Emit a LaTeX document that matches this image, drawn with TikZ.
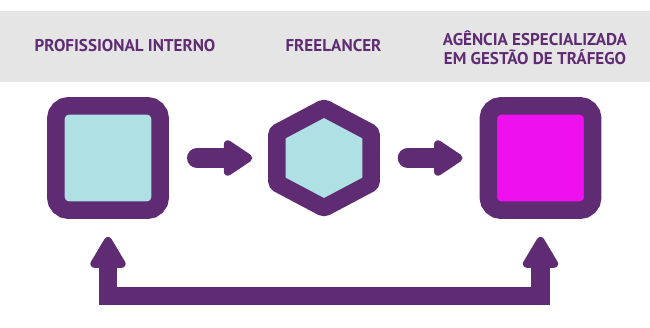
\documentclass[tikz,border=0pt]{standalone}
\usepackage{fontspec}
\setmainfont{PT Sans}
\usetikzlibrary{arrows.meta, positioning, shapes.geometric}
\definecolor{deeppurple}{RGB}{95,44,116}
\definecolor{paleblue}{RGB}{174,224,228}
\definecolor{hotpink}{RGB}{238,16,238}
\definecolor{bandgray}{RGB}{229,229,229}

\tikzset{
  tile/.style={draw=deeppurple, line width=0.35cm, rounded corners=0.26cm,
    minimum size=2.09cm, inner sep=0pt},
  hexa/.style={draw=deeppurple, fill=paleblue, line width=0.35cm,
    regular polygon, regular polygon sides=6, shape border rotate=30,
    minimum size=2cm, inner sep=0pt, rounded corners=0.05cm},
  headtext/.style={font=\bfseries\fontsize{9.7}{10.8}\selectfont,
    text=deeppurple, align=center},
  flow/.style={deeppurple, line width=0.4cm, line cap=round,
    -{Triangle[round, length=0.64cm, width=0.8cm, line width=0.16cm]}},
  loopback/.style={deeppurple, line width=0.38cm,
    {Triangle[round, length=0.7cm, width=0.78cm, line width=0.16cm]}-{Triangle[round, length=0.7cm, width=0.78cm, line width=0.16cm]}}
}

\begin{document}
\begin{tikzpicture}[x=0.02cm, y=-0.02cm]
  \useasboundingbox (0,0) rectangle (650,328);

  % Header band
  \fill[bandgray] (0,11) rectangle (650,82);
  \node[headtext] (t1) at (125,46) {PROFISSIONAL INTERNO};
  \node[headtext] (t2) at (333.5,46) {FREELANCER};
  \node[headtext] (t3) at (535,48) {AGÊNCIA ESPECIALIZADA\\EM GESTÃO DE TRÁFEGO};

  % Options
  \node[tile, fill=paleblue] (inhouse) at (108,158) {};
  \node[hexa, transform shape, xscale=1.09] (free) at (324,158) {};
  \node[tile, fill=hotpink] (agency) at (540.5,158) {};

  % Arrows
  \draw[flow, shorten <=0.56cm, shorten >=0.3cm] (inhouse.east) -- (free.west);
  \draw[flow, shorten <=0.54cm, shorten >=0.34cm] (free.east) -- (agency.west);

  % Way back
  \coordinate (base) at (325,296);
  \draw[loopback, shorten <=0.36cm, shorten >=0.36cm]
    (agency.south) -- (agency.south |- base) -- (inhouse.south |- base) -- (inhouse.south);
\end{tikzpicture}
\end{document}
